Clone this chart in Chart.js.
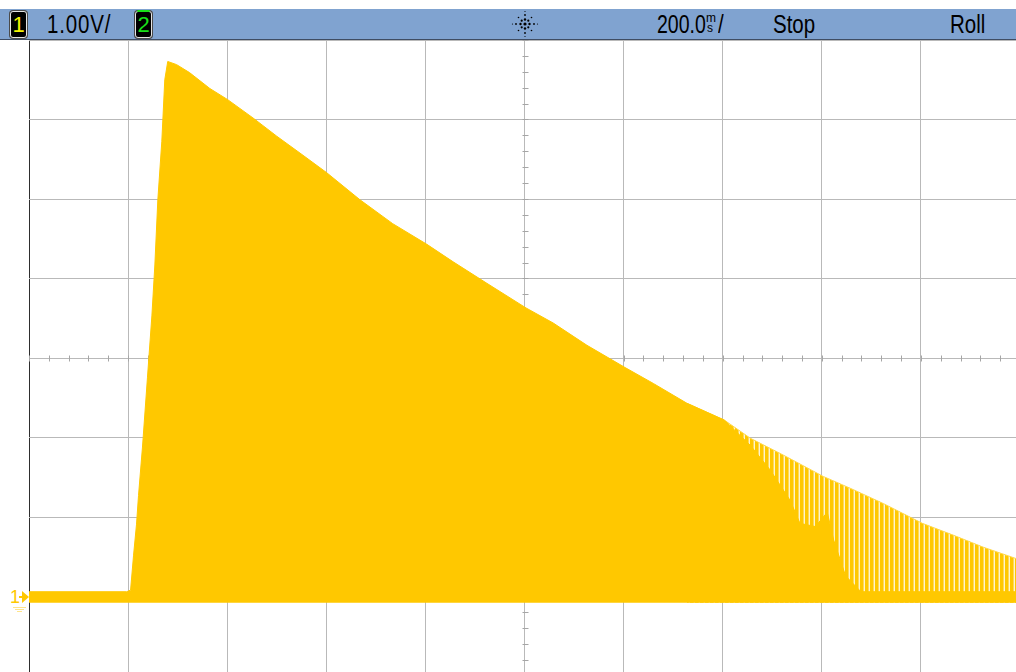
<!DOCTYPE html>
<html>
<head>
<meta charset="utf-8">
<script src="https://cdn.jsdelivr.net/npm/chart.js@4.4.1/dist/chart.umd.min.js"></script>
<style>
  html, body { margin: 0; padding: 0; background: #fff; overflow: hidden; width: 1016px; height: 672px; }
  #bar { position: absolute; left: 0; top: 9px; width: 1016px; height: 30px; background: #80a3d0;
         border-bottom: 1px solid #3f4d63; font-family: 'Liberation Sans', Arial, sans-serif; }
  .t { position: absolute; top: 0; font-size: 25px; line-height: 30px; color: #000;
       transform: scaleX(0.82); transform-origin: 0 0; white-space: nowrap; }
  .sm { position: absolute; font-size: 12px; line-height: 12px; color: #000; font-family: 'Liberation Sans', Arial, sans-serif; }
  .ch { position: absolute; top: 2px; width: 15px; height: 25px; background: #000; border: 1px solid #e4e4e4;
        border-radius: 3px; box-shadow: 0 0 0 1px #4a4a4a; font: 22px 'Liberation Sans', Arial, sans-serif;
        text-align: center; line-height: 26px; }
  #gnd { position: absolute; left: 10px; top: 588px; font: 18px/18px 'Liberation Sans', Arial, sans-serif; color: #ffc800; }
  #wrap { position: absolute; left: 0; top: 40px; }
</style>
</head>
<body>
<div id="bar">
  <div class="ch" style="left:10px;color:#f4f400;">1</div>
  <div class="t" style="left:47px;letter-spacing:1px;">1.00V/</div>
  <div class="ch" style="left:135px;color:#19e019;"><span style="text-decoration:overline;">2</span></div>
  <svg style="position:absolute;left:511px;top:1px;" width="28" height="28" viewBox="-14 -14 28 28">
    <g fill="#000">
      <circle r="1.6"/>
      <circle cx="0" cy="-4.5" r="1.2"/><circle cx="0" cy="4.5" r="1.2"/><circle cx="-4.5" cy="0" r="1.2"/><circle cx="4.5" cy="0" r="1.2"/>
      <circle cx="3.3" cy="3.3" r="1.1"/><circle cx="-3.3" cy="3.3" r="1.1"/><circle cx="3.3" cy="-3.3" r="1.1"/><circle cx="-3.3" cy="-3.3" r="1.1"/>
      <circle cx="0" cy="-9" r="0.9"/><circle cx="0" cy="9" r="0.9"/><circle cx="-9" cy="0" r="0.9"/><circle cx="9" cy="0" r="0.9"/>
      <circle cx="6.5" cy="6.5" r="0.8"/><circle cx="-6.5" cy="6.5" r="0.8"/><circle cx="6.5" cy="-6.5" r="0.8"/><circle cx="-6.5" cy="-6.5" r="0.8"/>
      <circle cx="0" cy="-12.5" r="0.6"/><circle cx="0" cy="12.5" r="0.6"/><circle cx="-12.5" cy="0" r="0.6"/><circle cx="12.5" cy="0" r="0.6"/>
    </g>
  </svg>
  <div class="t" style="left:657px;transform:scaleX(0.78);">200.0</div>
  <div class="sm" style="left:706px;top:3px;">m</div>
  <div class="sm" style="left:707px;top:13px;">s</div>
  <div class="t" style="left:718px;">/</div>
  <div class="t" style="left:773px;">Stop</div>
  <div class="t" style="left:950px;">Roll</div>
</div>
<div id="gnd">1</div>
<div id="wrap"><canvas id="scope" width="1022" height="636"></canvas></div>
<script>
// time in ms (200 ms/div), amplitude in volts (1 V/div)
const traceTimes = [0, 197, 205, 211, 217, 221, 229, 239, 248, 254, 260, 268, 274, 280, 298, 324, 365, 401,
  452, 500, 553, 601, 668, 734, 803, 856, 924, 1003, 1058, 1126, 1203, 1260, 1328, 1403,
  1456, 1496, 1536, 1556, 1587, 1611, 1624, 1648, 1679, 2000];
const traceVolts = [0.06, 0.06, 0.08, 0.52, 0.91, 1.27, 1.88, 2.75, 3.53, 4.17, 4.99, 5.72, 6.50, 6.73, 6.69, 6.59, 6.39, 6.25,
  6.02, 5.79, 5.55, 5.33, 4.99, 4.69, 4.43, 4.21, 3.94, 3.63, 3.44, 3.16, 2.88, 2.68, 2.43, 2.22,
  1.90, 1.59, 1.21, 0.92, 0.88, 1.06, 0.71, 0.26, 0.06, 0.06];

// upper envelope of the sparse (striped) tail
const tailTimes = [1328, 1403, 1456, 1522, 1603, 1658, 1724, 1803, 1866, 1926, 2000];
const tailVolts = [2.43, 2.22, 1.99, 1.78, 1.51, 1.36, 1.17, 0.92, 0.77, 0.62, 0.46];

const baseVolts = -0.08;
const xTicks = [0, 2000, 200];
const yTicks = [-1, 7, 1];

const toPts = (ts, vs) => ts.map((t, i) => ({ x: t, y: vs[i] }));

const canvas = document.getElementById('scope');
const ctx = canvas.getContext('2d');

function stripes() {
  const c = document.createElement('canvas');
  c.width = 5; c.height = 1;
  const g = c.getContext('2d');
  g.fillStyle = '#ffc800'; g.fillRect(0, 0, 3, 1);
  g.fillStyle = '#ffd95a'; g.fillRect(3, 0, 1, 1);
  g.fillStyle = '#fff4cc'; g.fillRect(4, 0, 1, 1);
  return ctx.createPattern(c, 'repeat');
}

// small ticks on the centre cross
const minorTicks = {
  id: 'minorTicks',
  beforeDatasetsDraw(chart) {
    const { ctx, scales: { x, y } } = chart;
    const cx = Math.round(x.getPixelForValue(1000)) + 0.5;
    const cy = Math.round(y.getPixelForValue(3)) + 0.5;
    ctx.save();
    ctx.strokeStyle = '#a6a6a6';
    ctx.lineWidth = 1;
    ctx.beginPath();
    for (let v = -1; v <= 7.01; v += 0.2) {
      const py = Math.round(y.getPixelForValue(v)) + 0.5;
      ctx.moveTo(cx - 3, py); ctx.lineTo(cx + 3, py);
    }
    for (let t = 0; t <= 2000; t += 40) {
      const px = Math.round(x.getPixelForValue(t)) + 0.5;
      ctx.moveTo(px, cy - 3); ctx.lineTo(px, cy + 3);
    }
    ctx.stroke();
    ctx.restore();
  }
};

// channel 1 ground marker
const groundMark = {
  id: 'groundMark',
  afterDraw(chart) {
    const { ctx, scales: { y } } = chart;
    const y0 = Math.round(y.getPixelForValue(0));
    ctx.save();
    ctx.fillStyle = '#ffc800';
    ctx.beginPath();
    ctx.moveTo(22, y0 - 6); ctx.lineTo(29, y0); ctx.lineTo(22, y0 + 6); ctx.closePath();
    ctx.fill();
    ctx.fillRect(19, y0 - 1, 3, 2);
    ctx.fillStyle = '#ffe48a';
    ctx.fillRect(13, y0 + 10, 13, 1);
    ctx.fillRect(15, y0 + 12, 9, 1);
    ctx.fillRect(17, y0 + 14, 5, 1);
    ctx.restore();
  }
};

new Chart(ctx, {
  type: 'line',
  data: {
    datasets: [
      {
        label: 'tail',
        data: toPts(tailTimes, tailVolts),
        borderColor: '#ffd84a',
        borderWidth: 1,
        backgroundColor: stripes(),
        fill: { value: baseVolts },
        pointRadius: 0,
        tension: 0,
        order: 2
      },
      {
        label: 'CH1',
        data: toPts(traceTimes, traceVolts),
        borderColor: '#ffc800',
        borderWidth: 1,
        backgroundColor: '#ffc800',
        fill: { value: baseVolts },
        pointRadius: 0,
        tension: 0,
        order: 1
      }
    ]
  },
  options: {
    responsive: false,
    animation: false,
    devicePixelRatio: 1,
    layout: { padding: { left: 29, right: 2, top: 0, bottom: 0 } },
    scales: {
      x: {
        type: 'linear',
        min: xTicks[0], max: xTicks[1],
        ticks: { display: false, stepSize: xTicks[2] },
        border: { display: false },
        grid: { drawTicks: false, color: c => c.tick.value === 0 ? '#2e2e2e' : '#b9b9b9', lineWidth: 1 }
      },
      y: {
        min: yTicks[0], max: yTicks[1],
        ticks: { display: false, stepSize: yTicks[2] },
        border: { display: false },
        grid: { drawTicks: false, color: '#b9b9b9', lineWidth: 1 }
      }
    },
    plugins: {
      legend: { display: false },
      tooltip: { enabled: false }
    }
  },
  plugins: [minorTicks, groundMark]
});
</script>
</body>
</html>
